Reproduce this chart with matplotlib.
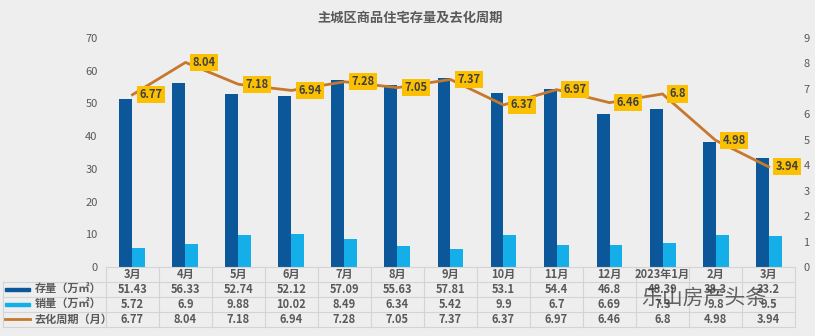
import numpy as np
import matplotlib.pyplot as plt
from matplotlib.patches import Rectangle
from matplotlib.lines import Line2D

plt.rcParams['font.family'] = ['Noto Sans CJK SC', 'DejaVu Sans']

# 数据
months = ['3月', '4月', '5月', '6月', '7月', '8月', '9月', '10月', '11月', '12月', '2023年1月', '2月', '3月']
stock = [51.43, 56.33, 52.74, 52.12, 57.09, 55.63, 57.81, 53.1, 54.4, 46.8, 48.39, 38.3, 33.2]
sales = [5.72, 6.9, 9.88, 10.02, 8.49, 6.34, 5.42, 9.9, 6.7, 6.69, 7.3, 9.8, 9.5]
cycle = [6.77, 8.04, 7.18, 6.94, 7.28, 7.05, 7.37, 6.37, 6.97, 6.46, 6.8, 4.98, 3.94]
row_names = ['存量（万㎡）', '销量（万㎡）', '去化周期（月）']

c_dark = '#0b5799'
c_light = '#14aee8'
c_line = '#c6782c'
c_box = '#fcc003'
c_text = '#595959'
c_grid = '#d4d4d4'
bg = '#eeeeee'

fig = plt.figure(figsize=(8.15, 3.36), dpi=100, facecolor=bg)
ax = fig.add_axes([0.130, 0.2054, 0.8455, 0.6815])
ax.set_facecolor(bg)
x = np.arange(len(months))
w = 0.245
ax.bar(x - w / 2, stock, w, color=c_dark, zorder=2)
ax.bar(x + w / 2, sales, w, color=c_light, zorder=2)
ax.set_xlim(-0.5, len(months) - 0.5)
ax.set_ylim(0, 70)
ax.set_yticks(range(0, 71, 10))
ax.set_xticks([])
for s in ax.spines.values():
    s.set_visible(False)
ax.tick_params(axis='y', length=0, labelsize=8, labelcolor=c_text, pad=6)

ax2 = ax.twinx()
ax2.set_ylim(0, 9)
ax2.set_yticks(range(0, 10))
for s in ax2.spines.values():
    s.set_visible(False)
ax2.tick_params(axis='y', length=0, labelsize=8, labelcolor=c_text, pad=6)
ax2.plot(x, cycle, color=c_line, lw=2, zorder=3)
for xi, v in zip(x, cycle):
    ax2.annotate(f'{v:g}', (xi, v), xytext=(5, 0), textcoords='offset points',
                 ha='left', va='center', fontsize=8, fontweight='bold', color='#404040',
                 bbox=dict(boxstyle='square,pad=0.2', fc=c_box, ec='none'), zorder=5)

fig.text(0.503, 0.948, '主城区商品住宅存量及去化周期', ha='center', va='center',
         fontsize=9.5, fontweight='bold', color=c_text)

# 数据表
trans = ax.get_xaxis_transform()
ax_h = 0.6815 * 336
row_h = 15.0 / ax_h
rows = [stock, sales, cycle]
# 水平线
for i in range(5):
    y = -i * row_h
    x0 = -0.5 if i == 0 else -2.45
    ax.plot([x0, len(months) - 0.5], [y, y], transform=trans, color=c_grid, lw=0.8, clip_on=False)
# 竖线
for k in range(len(months) + 1):
    ax.plot([k - 0.5, k - 0.5], [0, -4 * row_h], transform=trans, color=c_grid, lw=0.8, clip_on=False)
ax.plot([-2.45, -2.45], [-row_h, -4 * row_h], transform=trans, color=c_grid, lw=0.8, clip_on=False)

for k, m in enumerate(months):
    ax.text(k, -0.5 * row_h, m, transform=trans, ha='center', va='center',
            fontsize=8, fontweight='bold', color=c_text)
for r, vals in enumerate(rows):
    yc = -(r + 1.5) * row_h
    for k, v in enumerate(vals):
        ax.text(k, yc, f'{v:g}', transform=trans, ha='center', va='center',
                fontsize=8, fontweight='bold', color=c_text)

# 图例
key_colors = [c_dark, c_light, c_line]
for r, (name, col) in enumerate(zip(row_names, key_colors)):
    yc = -(r + 1.5) * row_h
    if r < 2:
        ax.add_patch(Rectangle((-2.4, yc - 0.006), 0.47, 0.012, transform=trans,
                               color=col, clip_on=False))
    else:
        ax.add_line(Line2D([-2.4, -1.93], [yc, yc], transform=trans, color=col,
                           lw=2, clip_on=False))
    ax.text(-1.85, yc, name, transform=trans, ha='left', va='center',
            fontsize=8, fontweight='bold', color=c_text)

# 水印
fig.text(0.94, 0.115, '乐山房产头条', ha='right', va='center', fontsize=15,
         color='#333333', alpha=0.75)

fig.savefig('out.png', dpi=100, facecolor=bg)
